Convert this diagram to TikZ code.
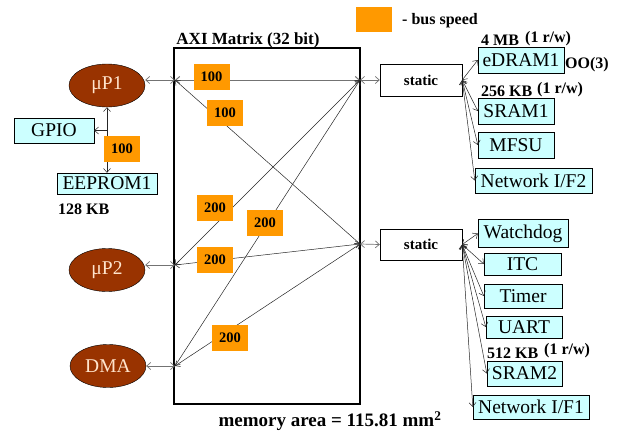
\documentclass[tikz,border=0pt]{standalone}
\usepackage{fontspec}
\setmainfont{Liberation Serif}
\usetikzlibrary{
    arrows.meta,
    shapes.geometric
}
\definecolor{procfill}{HTML}{993300}
\definecolor{proctext}{HTML}{FFE4CC}
\definecolor{memfill}{HTML}{CCFFFF}
\definecolor{speedfill}{HTML}{FF9900}

\begin{document}
\begin{tikzpicture}[x=1pt,y=-1pt,
    >={Straight Barb[length=4pt,width=7pt]},
    proc/.style={ellipse,draw,fill=procfill,text=proctext,inner sep=0pt,
        minimum width=76,minimum height=43,font=\fontsize{19.5}{22}\selectfont},
    mem/.style={draw,fill=memfill,inner sep=0pt,minimum height=25,
        font=\fontsize{19.5}{22}\selectfont},
    bridge/.style={draw,fill=white,inner sep=0pt,minimum width=82,minimum height=32,
        font=\fontsize{15}{18}\selectfont\bfseries},
    speed/.style={fill=speedfill,inner sep=0pt,minimum width=36,minimum height=26,
        font=\fontsize{14.5}{17}\selectfont\bfseries},
    note/.style={inner sep=0pt,font=\fontsize{16}{19}\selectfont\bfseries},
    link/.style={<->,draw=black!85,line width=0.5pt},
    port/.style={<->,draw=black!55,line width=0.7pt}
]
\useasboundingbox (0,0) rectangle (621,434);

% legend
\node[speed,minimum width=36,minimum height=25] (legend) at (374,19.5) {};
\node[note,anchor=west] (legendtext) at (402,21) {- bus speed};

% AXI matrix
\draw[line width=2pt] (174,48) rectangle (360,404);
\node[inner sep=0pt,font=\fontsize{17}{20}\selectfont\bfseries] (title) at (248,40) {AXI Matrix (32 bit)};
\coordinate (mP1) at (175,80);
\coordinate (mP2) at (175,265);
\coordinate (mDMA) at (175,366);
\coordinate (mTop) at (360,80);
\coordinate (mBot) at (360,244);

% masters
\node[proc] (P1) at (107,85.5) {μP1};
\node[proc] (P2) at (107,270) {μP2};
\node[proc] (DMA) at (108,366) {DMA};
\node[mem,minimum width=80] (GPIO) at (54,130.5) {GPIO};
\node[mem,minimum width=100,minimum height=21] (EEPROM1) at (107,183.5) {EEPROM1};
\node[note,anchor=west] (eepromsize) at (58,209) {128 KB};

\draw[link] (P1.south) -- (EEPROM1.north);
\coordinate (gpiobranch) at (P1.south |- GPIO.east);
\draw[link,-{Straight Barb[length=4pt,width=7pt]}] (gpiobranch) -- (GPIO.east);
\node[speed] (s0) at (122,149) {100};

\draw[port] (P1.east |- mP1) -- (mP1);
\draw[port] (P2.east |- mP2) -- (mP2);
\draw[port] (DMA.east |- mDMA) -- (mDMA);

% bridges
\node[bridge] (staticA) at (421,80) {static};
\node[bridge,minimum height=31] (staticB) at (421,244.5) {static};
\draw[port] (mTop) -- (staticA.west);
\draw[port] (mBot) -- (staticB.west);

% matrix paths
\draw[port,line width=1pt] (mP1) -- (mTop);
\draw[link] (mP1) -- (mBot);
\draw[link] (mP2) -- (mTop);
\draw[link] (mP2) -- (mBot);
\draw[link] (mDMA) -- (mTop);
\draw[link] (mDMA) -- (mBot);
\node[speed] (s1) at (211.5,76.5) {100};
\node[speed] (s2) at (225,113) {100};
\node[speed] (s3) at (215,207.5) {200};
\node[speed] (s4) at (265,223) {200};
\node[speed] (s5) at (215,260) {200};
\node[speed] (s6) at (230,338) {200};

% slaves on first bridge
\node[mem,minimum width=86,minimum height=26] (eDRAM1) at (521,60) {eDRAM1};
\node[mem,minimum width=76,minimum height=26] (SRAM1) at (516,111) {SRAM1};
\node[mem,minimum width=76,minimum height=26] (MFSU) at (516,145) {MFSU};
\node[mem,minimum width=117] (NetIF2) at (533.5,180.5) {Network I/F2};
\node[note,anchor=west] (edramsize) at (481,40) {4 MB};
\node[note,anchor=west] (edramrw) at (525,38.5) {(1 r/w)};
\node[note,anchor=west] (edramoo) at (565,64.5) {OO(3)};
\node[note,anchor=west] (sram1size) at (481,91.5) {256 KB};
\node[note,anchor=west] (sram1rw) at (537,89.5) {(1 r/w)};
\foreach \slave in {eDRAM1,SRAM1,MFSU,NetIF2}
  \draw[link] (staticA.east) -- (\slave.west);

% slaves on second bridge
\node[mem,minimum width=90,minimum height=28] (Watchdog) at (523,233.5) {Watchdog};
\node[mem,minimum width=77,minimum height=22] (ITC) at (522.5,264) {ITC};
\node[mem,minimum width=78,minimum height=24] (Timer) at (523,296) {Timer};
\node[mem,minimum width=76,minimum height=22] (UART) at (524,327) {UART};
\node[mem,minimum width=75] (SRAM2) at (524.5,373.5) {SRAM2};
\node[mem,minimum width=116,minimum height=24] (NetIF1) at (531,407) {Network I/F1};
\node[note,anchor=west] (sram2size) at (487,353) {512 KB};
\node[note,anchor=west] (sram2rw) at (544,351) {(1 r/w)};
\foreach \slave in {Watchdog,ITC,Timer,UART,SRAM2,NetIF1}
  \draw[link] (staticB.east) -- (\slave.west);

\node[inner sep=0pt,font=\fontsize{19}{22}\selectfont\bfseries] (area) at (330,421) {memory area = 115.81 mm\textsuperscript{2}};
\end{tikzpicture}
\end{document}
